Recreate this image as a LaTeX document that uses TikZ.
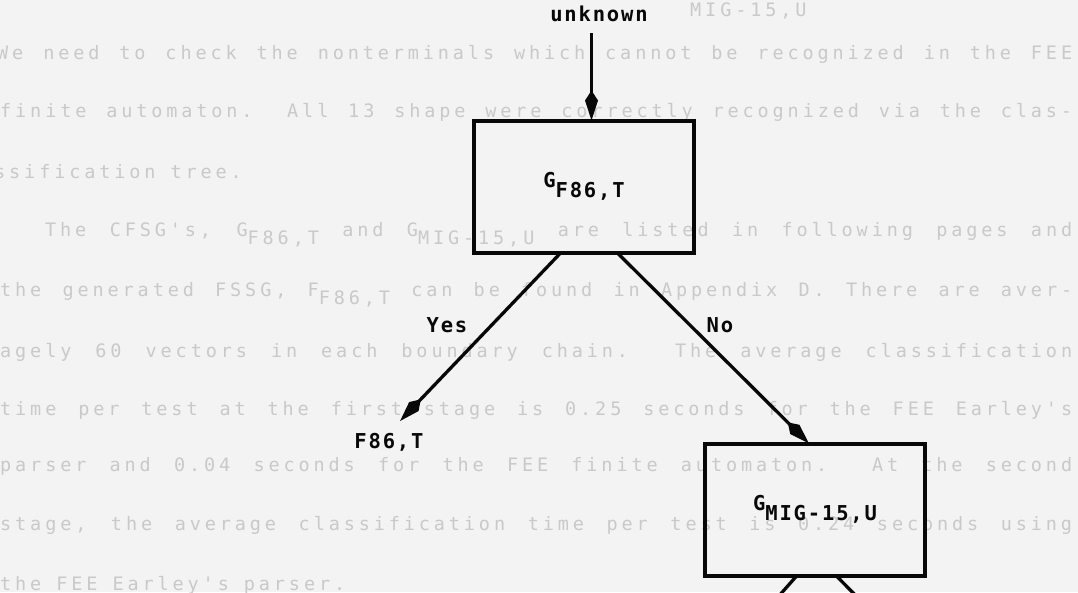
\documentclass[tikz,border=0pt]{standalone}
\usepackage{fontspec}
\usetikzlibrary{arrows.meta}
% typewriter-like faces: labels and the faint page text behind the tree
\newfontfamily\lblfont[LetterSpace=9]{DejaVu Sans Mono}
\newfontfamily\bgfont[LetterSpace=21]{DejaVu Sans Mono}
\definecolor{paper}{HTML}{F3F3F3}
\definecolor{ghost}{HTML}{C9C9C9}
\definecolor{ink}{HTML}{080808}
\tikzset{
  lblstyle/.style={font=\lblfont\bfseries\fontsize{20.5pt}{21pt}\selectfont, text=ink},
  treebox/.style={draw=ink, line width=4pt, minimum width=220pt, minimum height=132pt,
    inner sep=0pt, outer sep=0pt, lblstyle},
  lbl/.style={inner sep=0pt, anchor=base, lblstyle},
  branch/.style={draw=ink, line width=3.3pt, -{Kite[length=30pt,width=13pt,inset=10pt]}},
  stem/.style={draw=ink, line width=3.3pt},
  ghosttext/.style={anchor=base west, inner sep=0pt, text=ghost,
    font=\bgfont\fontsize{18.5pt}{19pt}\selectfont}
}
\newcommand{\lowsub}[1]{\raisebox{-10pt}{#1}}
\newcommand{\ghostsub}[1]{\raisebox{-8pt}{#1}}
\begin{document}
\begin{tikzpicture}[x=1pt,y=-1pt]
\useasboundingbox[fill=paper] (0,0) rectangle (1078,592);
\begin{scope}
\clip (0,0) rectangle (1078,592);
% page text showing through the paper
\node[ghosttext] (t0) at (690,16) {MIG-15,U};
\node[ghosttext] (t1) at (-3,59) {\makebox[1075pt][s]{We need to check the nonterminals which cannot be recognized in the FEE}};
\node[ghosttext] (t2) at (0,117) {\makebox[1072pt][s]{finite automaton.  All 13 shape were correctly recognized via the clas-}};
\node[ghosttext] (t3) at (-6,178) {ssification tree.};
\node[ghosttext] (t4) at (45,236) {\makebox[1027pt][s]{The CFSG's, G\ghostsub{F86,T} and G\ghostsub{MIG-15,U} are listed in following pages and}};
\node[ghosttext] (t5) at (0,296) {\makebox[1072pt][s]{the generated FSSG, F\ghostsub{F86,T} can be found in Appendix D.  There are aver-}};
\node[ghosttext] (t6) at (0,357) {\makebox[1072pt][s]{agely 60 vectors in each boundary chain.  The average classification}};
\node[ghosttext] (t7) at (0,415) {\makebox[1072pt][s]{time per test at the first stage is 0.25 seconds for the FEE Earley's}};
\node[ghosttext] (t8) at (0,471) {\makebox[1072pt][s]{parser and 0.04 seconds for the FEE finite automaton.  At the second}};
\node[ghosttext] (t9) at (0,530) {\makebox[1072pt][s]{stage, the average classification time per test is 0.24 seconds using}};
\node[ghosttext] (t10) at (0,590) {the FEE Earley's parser.};

% classification tree
\node[lbl] (unk) at (599,21.7) {unknown};
\node[treebox] (g1) at (584,186.5) {G\lowsub{F86,T}};
\node[treebox] (g2) at (815,509.5) {G\lowsub{MIG-15,U}};
\node[lbl] (f86) at (389,448) {F86,T};
\node[lbl] (yes) at (447,332) {Yes};
\node[lbl] (no) at (720,332) {No};

\draw[branch, shorten <=11pt] ([xshift=-7.5pt]unk.south) -- ([xshift=7.5pt]g1.north);
\draw[branch, shorten >=16pt] ([xshift=-23pt]g1.south) -- (f86.north);
\draw[branch] ([xshift=33pt]g1.south) -- ([xshift=-6pt]g2.north);

% next level of branches leaving the second test
\coordinate (d1) at (770,606);
\coordinate (d2) at (866,606);
\draw[stem] ([xshift=-18pt]g2.south) -- (d1);
\draw[stem] ([xshift=21pt]g2.south) -- (d2);
\end{scope}
\end{tikzpicture}
\end{document}
